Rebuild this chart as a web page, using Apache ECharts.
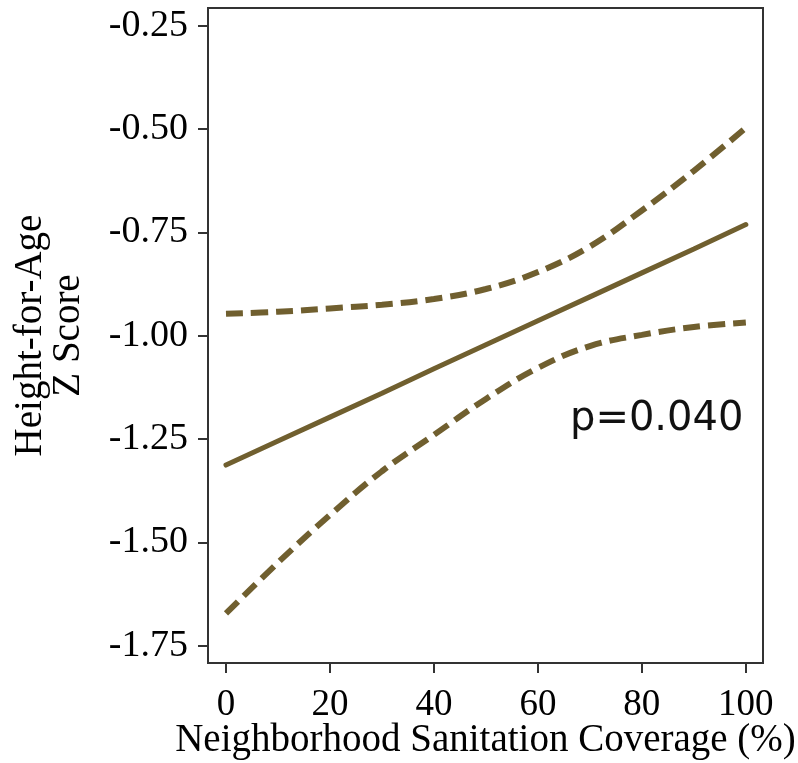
<!DOCTYPE html>
<html>
<head>
<meta charset="utf-8">
<script src="https://cdn.jsdelivr.net/npm/echarts@6/dist/echarts.min.js"></script>
<style>html,body{margin:0;padding:0;background:#fff}#c{width:798px;height:763px}</style>
</head>
<body>
<div id="c"></div>
<script>
// Data
const coverage = [0, 10, 20, 30, 40, 50, 60, 70, 80, 90, 100];
const fitted   = [-1.313, -1.255, -1.197, -1.139, -1.080, -1.022, -0.964, -0.906, -0.848, -0.790, -0.731];
const upperCI  = [-0.947, -0.942, -0.934, -0.925, -0.911, -0.887, -0.846, -0.784, -0.697, -0.601, -0.497];
const lowerCI  = [-1.672, -1.549, -1.434, -1.328, -1.240, -1.153, -1.078, -1.025, -0.998, -0.979, -0.968];
const xTicks = [0, 20, 40, 60, 80, 100];
const yTicks = [-1.75, -1.50, -1.25, -1.00, -0.75, -0.50, -0.25];
const xTitle = 'Neighborhood Sanitation Coverage (%)';
const yTitle = 'Height-for-Age\nZ Score';
const pText = 'p=0.040';

const col = '#705f2f';
const serif = 'Liberation Serif';
const pair = (xs, ys) => xs.map((x, i) => [x, ys[i]]);

const chart = echarts.init(document.getElementById('c'), null, {renderer: 'canvas'});
chart.setOption({
  animation: false,
  backgroundColor: '#fff',
  grid: {left: 208, top: 8, right: 35, bottom: 100, containLabel: false, outerBoundsMode: 'none',
    show: true, borderColor: '#333', borderWidth: 2, backgroundColor: 'transparent'},
  xAxis: {
    type: 'value', min: -3.46, max: 103.3,
    name: xTitle, nameLocation: 'middle', nameGap: 58, nameMoveOverlap: false,
    nameTextStyle: {fontFamily: serif, fontSize: 39, color: '#000'},
    axisLine: {show: true, onZero: false, lineStyle: {color: '#333', width: 2}},
    axisTick: {show: true, length: 10, lineStyle: {color: '#333', width: 2}, customValues: xTicks},
    axisLabel: {fontFamily: serif, fontSize: 37, color: '#000', margin: 24, customValues: xTicks},
    splitLine: {show: false}
  },
  yAxis: {
    type: 'value', min: -1.792, max: -0.207,
    name: yTitle, nameLocation: 'middle', nameGap: 120, nameRotate: 90, nameMoveOverlap: false,
    nameTextStyle: {fontFamily: serif, fontSize: 39, color: '#000', lineHeight: 38},
    axisLine: {show: true, onZero: false, lineStyle: {color: '#333', width: 2}},
    axisTick: {show: true, length: 10, lineStyle: {color: '#333', width: 2}, customValues: yTicks},
    axisLabel: {fontFamily: serif, fontSize: 38, color: '#000', margin: 20, customValues: yTicks,
      formatter: v => v.toFixed(2)},
    splitLine: {show: false}
  },
  series: [
    {type: 'line', data: pair(coverage, upperCI), smooth: 0.4, symbol: 'none',
      lineStyle: {color: col, width: 6, type: [17, 8], cap: 'butt'}},
    {type: 'line', data: pair(coverage, lowerCI), smooth: 0.4, symbol: 'none',
      lineStyle: {color: col, width: 6, type: [17, 8], cap: 'butt'}},
    {type: 'line', data: pair(coverage, fitted), symbol: 'none',
      lineStyle: {color: col, width: 5, cap: 'round'}}
  ],
  graphic: [{
    type: 'text', left: 570, top: 400,
    style: {text: pText, font: '40px "DejaVu Sans"', fill: '#111'}
  }]
});
</script>
</body>
</html>
